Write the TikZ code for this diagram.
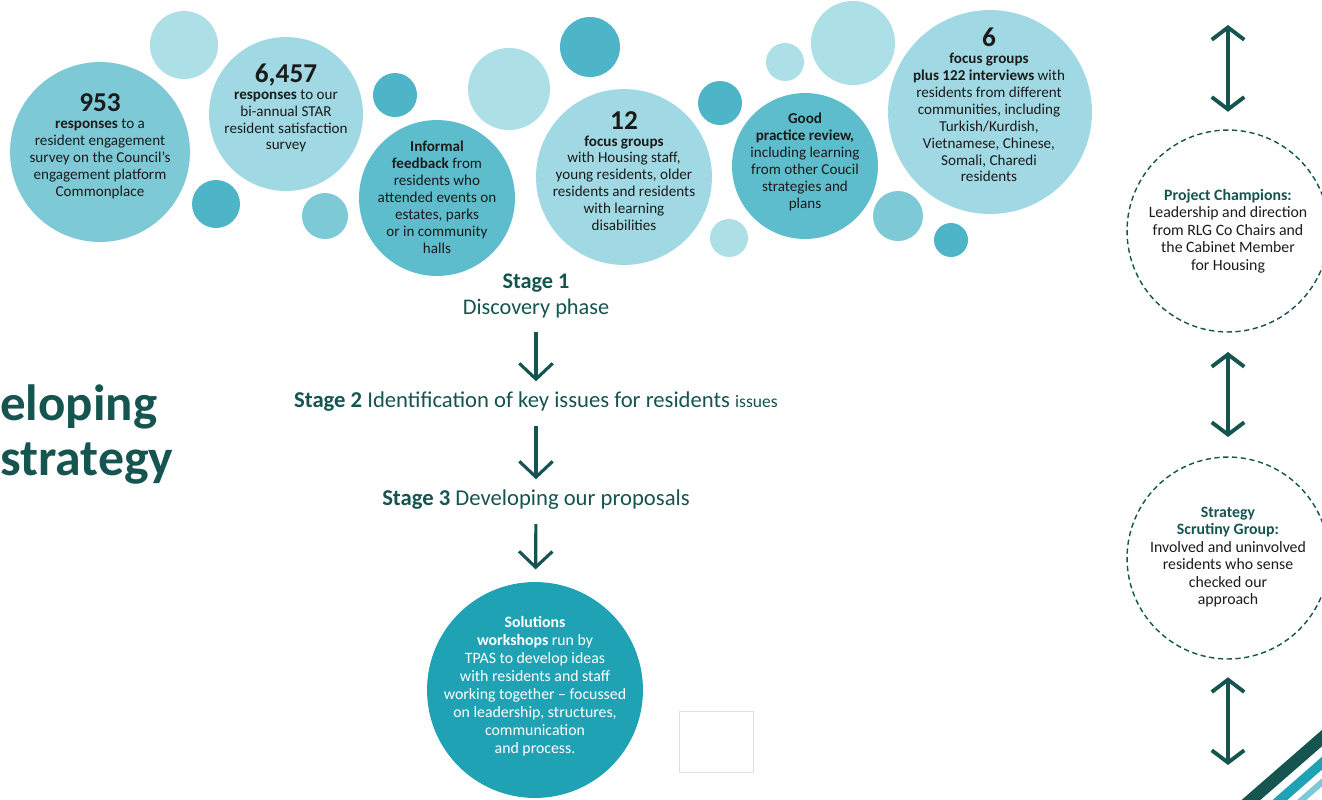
\documentclass[tikz,border=0pt]{standalone}
\usepackage{fontspec}
\setmainfont{Carlito}
\usetikzlibrary{arrows.meta}

\definecolor{deepteal}{RGB}{21,84,79}
\definecolor{inkblack}{RGB}{27,27,27}
\definecolor{bubpale}{RGB}{173,223,230}
\definecolor{bublight}{RGB}{160,217,227}
\definecolor{bubmid}{RGB}{126,201,214}
\definecolor{bubdeep}{RGB}{94,189,205}
\definecolor{bubdark}{RGB}{78,180,199}
\definecolor{solteal}{RGB}{31,162,180}

\newcommand{\numfont}{\fontsize{15.5}{15.5}\selectfont\bfseries}

\tikzset{
  bub/.style={circle,inner sep=0pt,fill=#1},
  rad/.style={minimum size=#1*0.04cm},
  btxt/.style={align=center,inner sep=0pt,text=inkblack,
    font=\fontsize{8.6}{9.64}\selectfont},
  sidetxt/.style={btxt,font=\fontsize{9}{10}\selectfont},
  ring/.style={circle,inner sep=0pt,draw=deepteal,line width=0.8pt,
    dash pattern=on 3pt off 2pt},
  stagetxt/.style={align=center,inner sep=0pt,text=deepteal},
  stagearrow/.style={-{Straight Barb[length=9pt,width=19pt]},
    line width=1.8pt,draw=deepteal},
  linkarrow/.style={{Straight Barb[length=7pt,width=18.5pt]}-{Straight Barb[length=7pt,width=18.5pt]},
    line width=2.2pt,draw=deepteal}
}

\begin{document}
\begin{tikzpicture}[x=0.02cm,y=-0.02cm]
\useasboundingbox (0,0) rectangle (1322,799);
\clip (0,0) rectangle (1322,799);

% small bubbles
\fill[bubpale] (184,45) circle (34);
\fill[bubdark] (216,204) circle (24);
\fill[bubmid] (325,216) circle (23);
\fill[bubdark] (395,95) circle (22);
\fill[bubpale] (509,89) circle (41);
\fill[bubdark] (590,47) circle (30);
\fill[bubdark] (720,103) circle (22);
\fill[bubpale] (729,238) circle (19);
\fill[bubpale] (785,62) circle (19);
\fill[bubpale] (853,43) circle (42);
\fill[bubmid] (898,216) circle (25);
\fill[bubdark] (951,240) circle (17);

% big bubbles
\node[bub=bubmid,rad=90] (c953) at (100,152) {};
\node[bub=bublight,rad=77] (c6457) at (286,114) {};
\node[bub=bubdeep,rad=78] (cinformal) at (437,198) {};
\node[bub=bublight,rad=88] (c12) at (624,177) {};
\node[bub=bubdeep,rad=73] (cgood) at (805,166) {};
\node[bub=bublight,rad=102] (csix) at (990,112) {};

\node[btxt] (t953) at (100,146) {{\numfont 953}\\\textbf{responses} to a\\resident engagement\\survey on the Council’s\\engagement platform\\Commonplace};
\node[btxt] (t6457) at (286,108) {{\numfont 6,457}\\\textbf{responses} to our\\bi-annual STAR\\resident satisfaction\\survey};
\node[btxt] (tinformal) at (437,197) {\textbf{Informal}\\\textbf{feedback} from\\residents who\\attended events on\\estates, parks\\or in community\\halls};
\node[btxt] (t12) at (624,171) {{\numfont 12}\\\textbf{focus groups}\\with Housing staff,\\young residents, older\\residents and residents\\with learning\\disabilities};
\node[btxt] (tgood) at (805,162) {\textbf{Good}\\\textbf{practice review,}\\including learning\\from other Coucil\\strategies and\\plans};
\node[btxt] (tsix) at (989,105) {{\numfont 6}\\\textbf{focus groups}\\\textbf{plus 122 interviews} with\\residents from different\\communities, including\\Turkish/Kurdish,\\Vietnamese, Chinese,\\Somali, Charedi\\residents};

% stages
\node[stagetxt,font=\fontsize{12.7}{14.5}\selectfont] (stage1) at (536,296) {\textbf{Stage 1}\\Discovery phase};
\node[stagetxt,font=\fontsize{12.9}{14.5}\selectfont] (stage2) at (536,402) {\textbf{Stage 2} Identification of key issues for residents {\fontsize{10}{11}\selectfont issues}};
\node[stagetxt,font=\fontsize{12.9}{14.5}\selectfont] (stage3) at (536,500) {\textbf{Stage 3} Developing our proposals};
\node[bub=solteal,rad=108] (solutions) at (535,690) {};
\node[btxt,text=white,font=\fontsize{9}{10.2}\selectfont] (tsolutions) at (535,686) {\textbf{Solutions}\\\textbf{workshops} run by\\TPAS to develop ideas\\with residents and staff\\working together -- focussed\\on leadership, structures,\\communication\\and process.};

\draw[stagearrow,shorten <=8pt,shorten >=6pt] (stage1) -- (stage2);
\draw[stagearrow,shorten <=8pt,shorten >=6pt] (stage2) -- (stage3);
\draw[stagearrow,shorten <=8pt,shorten >=7pt] (stage3) -- (solutions);

% heading
\node[anchor=base west,inner sep=0pt,text=deepteal,font=\fontsize{29}{32}\selectfont\bfseries] (headA) at (0,420) {eloping};
\node[anchor=base west,inner sep=0pt,text=deepteal,font=\fontsize{29.5}{32}\selectfont\bfseries] (headB) at (0,475) {strategy};

% right column
\node[ring,rad=101] (champions) at (1228,231) {};
\node[ring,rad=101] (scrutiny) at (1228,558) {};
\node[sidetxt] (tchampions) at (1228,231) {\textcolor{deepteal}{\textbf{Project Champions:}}\\Leadership and direction\\from RLG Co Chairs and\\the Cabinet Member\\for Housing};
\node[sidetxt] (tscrutiny) at (1228,557) {\textcolor{deepteal}{\textbf{Strategy}}\\\textcolor{deepteal}{\textbf{Scrutiny Group:}}\\Involved and uninvolved\\residents who sense\\checked our\\approach};
\coordinate (topend) at (1228,25);
\coordinate (lowend) at (1228,765);
\draw[linkarrow,shorten >=10pt] (topend) -- (champions);
\draw[linkarrow,shorten <=11pt,shorten >=11pt] (champions) -- (scrutiny);
\draw[linkarrow,shorten <=10pt] (scrutiny) -- (lowend);

% blank frame and corner stripes
\draw[gray!25,line width=0.4pt] (679,711) rectangle (753,772);
\draw[deepteal,line width=7pt] (1228,820) -- (1345,718);
\draw[solteal,line width=5.5pt] (1257,820) -- (1345,743);
\draw[bubmid,line width=3.5pt] (1279,820) -- (1345,762);
\end{tikzpicture}
\end{document}
